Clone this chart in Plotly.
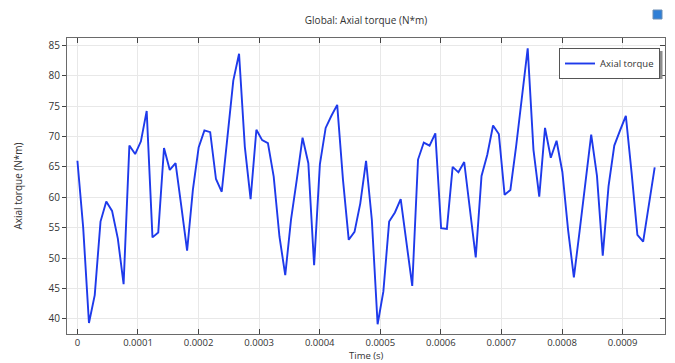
import plotly.graph_objects as go

# Time step of the sampled solution (s)
dt = 9.53e-6
torque = [66.0, 55.0, 39.3, 43.9, 56.0, 59.3, 57.75, 53.2, 45.7, 68.5,
          67.1, 69.2, 74.2, 53.4, 54.2, 68.1, 64.5, 65.6, 58.5, 51.2,
          61.2, 68.2, 71.0, 70.7, 63.0, 60.9, 70.0, 79.2, 83.6, 68.3,
          59.7, 71.1, 69.4, 68.9, 63.4, 53.5, 47.2, 56.3, 62.9, 69.8,
          65.6, 48.8, 65.4, 71.4, 73.4, 75.2, 62.9, 53.0, 54.3, 59.0,
          66.0, 56.3, 39.1, 44.5, 56.0, 57.5, 59.7, 52.4, 45.4, 66.2,
          69.0, 68.5, 70.5, 54.9, 54.8, 65.0, 64.1, 65.8, 57.9, 50.1,
          63.5, 67.0, 71.8, 70.4, 60.4, 61.2, 68.4, 76.6, 84.5, 67.8,
          60.1, 71.4, 66.5, 69.3, 64.2, 54.6, 46.8, 54.5, 62.3, 70.3,
          63.5, 50.4, 61.8, 68.5, 71.0, 73.4, 64.0, 53.8, 52.7, 59.0,
          64.9]
time = [i * dt for i in range(len(torque))]

x_tickvals = [0, 0.0001, 0.0002, 0.0003, 0.0004, 0.0005, 0.0006, 0.0007, 0.0008, 0.0009]
x_ticktext = ["0", "0.0001", "0.0002", "0.0003", "0.0004", "0.0005", "0.0006", "0.0007", "0.0008", "0.0009"]
y_tickvals = [40, 45, 50, 55, 60, 65, 70, 75, 80, 85]

x_range = [-1.72e-5, 9.70e-4]
y_range = [37.5, 86.2]

FONT = "Open Sans"
TXT = "#333333"
GRID = "#e8e8e8"
FRAME = "#6a6a6a"

# plot-area geometry in pixels (for paper-coordinate decorations)
PL, PR, PT, PB = 67, 665, 38, 334
PW, PH = PR - PL, PB - PT


def px(x):
    return (x - PL) / PW


def py(y):
    return (PB - y) / PH


fig = go.Figure()
fig.add_trace(go.Scatter(
    x=time, y=torque, mode="lines", name="Axial torque",
    line=dict(color="rgb(30,58,235)", width=1.9),
))
# invisible helper trace so the right-side axis (inside ticks) is drawn
fig.add_trace(go.Scatter(x=[time[0]], y=[torque[0]], yaxis="y2", mode="markers",
                         marker=dict(opacity=0), showlegend=False, hoverinfo="skip"))

fig.update_layout(
    width=675, height=363,
    margin=dict(l=PL, r=675 - PR, t=PT, b=363 - PB),
    paper_bgcolor="white", plot_bgcolor="white",
    font=dict(family=FONT, size=10, color=TXT),
    title=dict(text="Global: Axial torque (N*m)", x=(PL + PR) / 2 / 675, xanchor="center",
               y=1 - 20 / 363, yanchor="middle", font=dict(size=10, color=TXT)),
    xaxis=dict(
        range=x_range, tickvals=x_tickvals, ticktext=x_ticktext,
        showgrid=True, gridcolor=GRID, gridwidth=1, zeroline=False,
        showline=True, linecolor=FRAME, linewidth=1, mirror="ticks",
        ticks="inside", ticklen=5, tickcolor="#444", tickfont=dict(size=9.5, color=TXT),
        ticklabelstandoff=0,
        automargin=False,
    ),
    yaxis=dict(
        range=y_range, tickvals=y_tickvals,
        showgrid=True, gridcolor=GRID, gridwidth=1, zeroline=False,
        showline=True, linecolor=FRAME, linewidth=1, mirror=True,
        ticks="outside", ticklen=4, tickcolor="#444", tickfont=dict(size=10, color=TXT),
        title=dict(text="Axial torque (N*m)", font=dict(size=10, color=TXT), standoff=24),
        automargin=False,
    ),
    yaxis2=dict(
        range=y_range, tickvals=y_tickvals, overlaying="y", side="right",
        showgrid=False, zeroline=False, showline=False, showticklabels=False,
        ticks="inside", ticklen=5, tickcolor="#444", automargin=False,
    ),
    legend=dict(
        x=px(559), y=py(48), xanchor="left", yanchor="top",
        bgcolor="white", bordercolor="#555555", borderwidth=1,
        font=dict(size=9.5, color=TXT),
    ),
    showlegend=True,
)

# x-axis title
fig.add_annotation(text="Time (s)", xref="paper", yref="paper",
                   x=0.5, y=py(363), xanchor="center", yanchor="bottom",
                   borderpad=0, showarrow=False, font=dict(size=9.5, color=TXT))

# legend drop shadow
fig.add_shape(type="rect", xref="paper", yref="paper",
              x0=px(562), x1=px(662.5), y0=py(79), y1=py(51),
              line=dict(width=0), fillcolor="#8c8c8c", layer="above")

# small toolbar-like icon at top right
fig.add_shape(type="rect", xref="paper", yref="paper",
              x0=px(653), x1=px(662), y0=py(19), y1=py(10),
              line=dict(color="#6d8fb5", width=1), fillcolor="#2f7fd6")

fig.write_html("out.html")
